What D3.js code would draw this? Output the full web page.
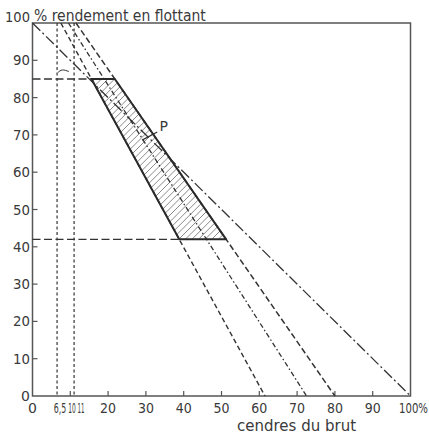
<!DOCTYPE html>
<html>
<head>
<meta charset="utf-8">
<script src="https://cdn.jsdelivr.net/npm/d3@7"></script>
<style>
  body { margin: 0; background: #fff; }
  svg { display: block; }
  text { font-family: "DejaVu Sans", sans-serif; fill: #3a3a3a; }
</style>
</head>
<body>
<svg id="chart" width="429" height="437"></svg>
<script>
// ---- data -------------------------------------------------------------
// x: cendres du brut (%), y: rendement en flottant (%)
const xTickValues = [10, 20, 30, 40, 50, 60, 70, 80, 90];
const xLabelValues = [0, 6.5, 10, 11, 20, 30, 40, 50, 60, 70, 80, 90, 100];
const xLabelTexts = ["0", "6,5", "10", "11", "20", "30", "40", "50", "60", "70", "80", "90", "100%"];
const yTickValues = [10, 20, 30, 40, 50, 60, 70, 80, 90];
const yLabelValues = [0, 10, 20, 30, 40, 50, 60, 70, 80, 90, 100];

// straight lines given as [ash % at 100 % yield, ash % at 0 % yield]
const lineA = [7.5, 61.5];
const lineB = [9.5, 72.5];
const lineC = [11.5, 80];
const diagonalLine = [0, 100];

// dotted verticals (ash %) and dashed horizontals (yield %)
const verticalAsh = [6.5, 11];
const yieldLevels = [85, 42];

// point P with its leader, and the small arc mark
const pointPLabel = [34.7, 72.4];
const pointPLeader = [[33.0, 70.8], [29.0, 68.6]];
const arcMark = [[6.7, 86.7], [7.9, 87.4], [9.6, 87.0]];

// ---- layout -----------------------------------------------------------
const svg = d3.select("#chart");
const x = d3.scaleLinear().domain([0, 100]).range([32.5, 410.5]);
const y = d3.scaleLinear().domain([0, 100]).range([396, 23]);

const ink = "#333";
const frameInk = "#555";

// ash value of a line at a given yield
const ashAt = (ln, yv) => ln[0] + (ln[1] - ln[0]) * (100 - yv) / 100;
const seg = (ln) => [[ln[0], 100], [ln[1], 0]];
const line = d3.line().x(d => x(d[0])).y(d => y(d[1]));

// squeeze a text horizontally to a given width, anchored at (cx, by)
function fitText(node, cx, by, width, anchor) {
  const t = d3.select(node).attr("x", 0).attr("y", 0).attr("text-anchor", anchor);
  const w = node.getComputedTextLength();
  const s = Math.min(1, width / w);
  t.attr("transform", `translate(${cx},${by}) scale(${s},1)`);
}

// ---- hatched zone -----------------------------------------------------
const [yHi, yLo] = yieldLevels;
const zone = [
  [ashAt(lineA, yHi), yHi],
  [ashAt(lineC, yHi), yHi],
  [ashAt(lineC, yLo), yLo],
  [ashAt(lineA, yLo), yLo]
];

svg.append("clipPath").attr("id", "zoneClip")
  .append("path").attr("d", line(zone) + "Z");

const hatch = svg.append("g").attr("clip-path", "url(#zoneClip)");
const pxLeft = x(zone[0][0]) - 200, pxRight = x(zone[2][0]) + 10;
const pyTop = y(yHi), pyBot = y(yLo);
const H = pyBot - pyTop + 20;
for (let px = pxLeft; px < pxRight; px += 6.6) {
  hatch.append("line")
    .attr("x1", px).attr("y1", pyBot + 10)
    .attr("x2", px + H).attr("y2", pyBot + 10 - H)
    .attr("stroke", "#8a8a8a").attr("stroke-width", 1);
}

// ---- frame ------------------------------------------------------------
svg.append("rect")
  .attr("x", x(0)).attr("y", y(100))
  .attr("width", x(100) - x(0)).attr("height", y(0) - y(100))
  .attr("fill", "none").attr("stroke", frameInk).attr("stroke-width", 1.5);

// ticks pointing into the plot
svg.append("g").selectAll("line").data(xTickValues).join("line")
  .attr("x1", d => x(d)).attr("x2", d => x(d))
  .attr("y1", y(0)).attr("y2", y(0) - 5)
  .attr("stroke", frameInk).attr("stroke-width", 1.2);
svg.append("g").selectAll("line").data(yTickValues).join("line")
  .attr("x1", x(0)).attr("x2", x(0) + 5)
  .attr("y1", d => y(d)).attr("y2", d => y(d))
  .attr("stroke", frameInk).attr("stroke-width", 1.2);

// ---- reference lines --------------------------------------------------
// dotted verticals
svg.append("g").selectAll("path").data(verticalAsh).join("path")
  .attr("d", d => line([[d, 100], [d, 0]]))
  .attr("fill", "none").attr("stroke", ink).attr("stroke-width", 1.2)
  .attr("stroke-dasharray", "3,2.5");

// long dash-dot diagonal
svg.append("path").attr("d", line(seg(diagonalLine)))
  .attr("fill", "none").attr("stroke", ink).attr("stroke-width", 1.3)
  .attr("stroke-dasharray", "11,3,2,3");

// fan of dashed lines
svg.append("path").attr("d", line(seg(lineA)))
  .attr("fill", "none").attr("stroke", ink).attr("stroke-width", 1.4)
  .attr("stroke-dasharray", "5,3");
svg.append("path").attr("d", line(seg(lineB)))
  .attr("fill", "none").attr("stroke", ink).attr("stroke-width", 1.3)
  .attr("stroke-dasharray", "5,2.5,1.5,2.5");
svg.append("path").attr("d", line(seg(lineC)))
  .attr("fill", "none").attr("stroke", ink).attr("stroke-width", 1.5)
  .attr("stroke-dasharray", "6,3");

// dashed horizontals up to the zone
svg.append("g").selectAll("path").data(yieldLevels).join("path")
  .attr("d", d => line([[0, d], [ashAt(lineA, d), d]]))
  .attr("fill", "none").attr("stroke", ink).attr("stroke-width", 1.4)
  .attr("stroke-dasharray", "8,3.5");

// zone outline
svg.append("path").attr("d", line(zone) + "Z")
  .attr("fill", "none").attr("stroke", "#2a2a2a").attr("stroke-width", 2)
  .attr("stroke-linejoin", "round");

// arc mark
svg.append("path")
  .attr("d", d3.line().x(d => x(d[0])).y(d => y(d[1])).curve(d3.curveNatural)(arcMark))
  .attr("fill", "none").attr("stroke", ink).attr("stroke-width", 1);

// point P
svg.append("path").attr("d", line(pointPLeader))
  .attr("fill", "none").attr("stroke", ink).attr("stroke-width", 1.2);
svg.append("text")
  .attr("x", x(pointPLabel[0])).attr("y", y(pointPLabel[1]) + 5)
  .attr("text-anchor", "middle").attr("font-size", 14).text("P");

// ---- labels -----------------------------------------------------------
// crowded labels near the origin get a nudge and a narrower width
const xLabelShift = { 6.5: 3, 10: 1.8, 11: 7, 100: 3 };
const xLabelWidth = { 6.5: 12.5, 10: 7.5, 11: 7, 100: 29 };
svg.append("g").selectAll("text").data(xLabelValues).join("text")
  .attr("font-size", 14)
  .text((d, i) => xLabelTexts[i])
  .each(function (d) {
    fitText(this, x(d) + (xLabelShift[d] || 0), 413, xLabelWidth[d] || 16, "middle");
  });

svg.append("g").selectAll("text").data(yLabelValues).join("text")
  .attr("font-size", 14)
  .text(d => String(d))
  .each(function (d) {
    fitText(this, 30, d === 100 ? 22 : y(d) + 5, d === 100 ? 25 : 17, "end");
  });

svg.append("text")
  .attr("font-size", 15)
  .text("% rendement en flottant")
  .each(function () { fitText(this, 34, 21, 172, "start"); });

svg.append("text")
  .attr("font-size", 15)
  .text("cendres du brut")
  .each(function () { fitText(this, 237, 431, 123, "start"); });
</script>
</body>
</html>
